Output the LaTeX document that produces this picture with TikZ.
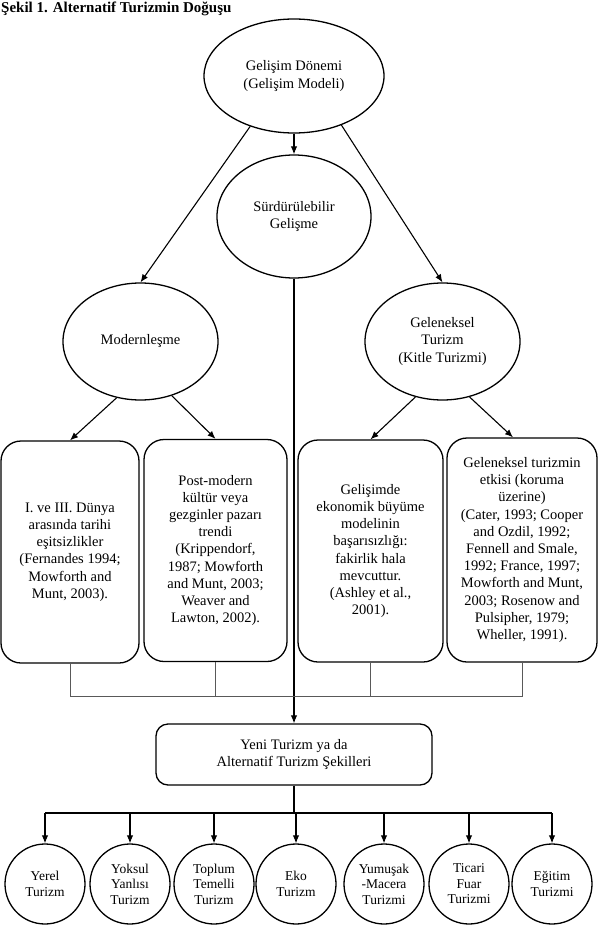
\documentclass[tikz,border=0pt]{standalone}
\usepackage{fontspec}
\setmainfont{Liberation Serif}
\usetikzlibrary{shapes.geometric, arrows.meta}

\begin{document}
\begin{tikzpicture}[
    x=1pt, y=-1pt,
    oval/.style={ellipse, draw, line width=1.3pt, inner sep=0pt, align=center, font=\fontsize{14.5}{17.2}\selectfont},
    source/.style={rectangle, rounded corners=20pt, draw, line width=1.3pt, minimum height=222pt, inner sep=2pt, align=center, font=\fontsize{14.5}{17.2}\selectfont},
    kind/.style={circle, draw, line width=1.3pt, minimum size=80pt, inner sep=0pt, align=center, font=\fontsize{13.5}{15.5}\selectfont},
    arrow/.style={->, >={Latex[length=8pt, width=6.5pt]}, line width=1.1pt},
    joinline/.style={draw=black!65, line width=0.9pt}
]
\path[use as bounding box] (0,0) rectangle (598,947);

% Başlık
\node[anchor=base west, font=\fontsize{15}{18}\selectfont\bfseries, inner sep=0pt] (title) at (1,13) {Şekil 1. Alternatif Turizmin Doğuşu};

% Üst düzey
\node[oval, minimum width=180pt, minimum height=114pt] (gelisim) at (294,76) {Gelişim Dönemi\\(Gelişim Modeli)};
\node[oval, minimum width=154pt, minimum height=123pt] (surdur) at (294,216.5) {Sürdürülebilir\\Gelişme};

\node[oval, minimum width=155pt, minimum height=117pt] (modern) at (140.5,341.5) {Modernleşme};
\node[oval, minimum width=155pt, minimum height=117pt] (geleneksel) at (442.5,341.5) {Geleneksel\\Turizm\\(Kitle Turizmi)};

% Kaynak kutuları
\node[source, minimum width=138pt] (esitsiz) at (70,552) {I. ve III. Dünya\\arasında tarihi\\eşitsizlikler\\(Fernandes 1994;\\Mowforth and\\Munt, 2003).};
\node[source, minimum width=143pt] (postmodern) at (215.5,550.5) {Post-modern\\kültür veya\\gezginler pazarı\\trendi\\(Krippendorf,\\1987; Mowforth\\and Munt, 2003;\\Weaver and\\Lawton, 2002).};
\node[source, minimum width=145pt] (basarisiz) at (370.5,551) {Gelişimde\\ekonomik büyüme\\modelinin\\başarısızlığı:\\fakirlik hala\\mevcuttur.\\(Ashley et al.,\\2001).};
\node[source, minimum width=150pt, minimum height=224pt] (etki) at (522,550) {Geleneksel turizmin\\etkisi (koruma\\üzerine)\\(Cater, 1993; Cooper\\and Ozdil, 1992;\\Fennell and Smale,\\1992; France, 1997;\\Mowforth and Munt,\\2003; Rosenow and\\Pulsipher, 1979;\\Wheller, 1991).};

% Yeni turizm
\node[rectangle, rounded corners=12pt, draw, line width=1.3pt, minimum width=276pt, minimum height=61pt, align=center, font=\fontsize{14.5}{17.2}\selectfont] (yeni) at (294,754.5) {Yeni Turizm ya da\\Alternatif Turizm Şekilleri};

% Alternatif turizm türleri
\node[kind] (yerel) at (45,884) {Yerel\\Turizm};
\node[kind] (yoksul) at (130,884) {Yoksul\\Yanlısı\\Turizm};
\node[kind] (toplum) at (214,884) {Toplum\\Temelli\\Turizm};
\node[kind] (eko) at (296,884) {Eko\\Turizm};
\node[kind] (yumusak) at (384,884) {Yumuşak\\-Macera\\Turizmi};
\node[kind] (ticari) at (469,884) {Ticari\\Fuar\\Turizmi};
\node[kind] (egitim) at (552,884) {Eğitim\\Turizmi};

\coordinate (join) at (0,696);
\coordinate (split) at (0,813);

% Oklar
\draw[arrow] (gelisim) -- (surdur);
\draw[arrow] (gelisim.229) -- (modern.north);
\draw[arrow] (gelisim.-46) -- (geleneksel.north);

\draw[arrow] (modern.247) -- (esitsiz.north);
\draw[arrow] (modern.-60) -- (postmodern.north);
\draw[arrow] (geleneksel.244) -- (basarisiz.north);
\draw[arrow] (geleneksel.-64) -- ([xshift=-9pt]etki.north);

\draw[arrow] (surdur) -- (yeni);

% Birleşme çizgileri
\draw[joinline] (esitsiz.south) -- (esitsiz.south |- join) -- (etki.south |- join) -- (etki.south);
\draw[joinline] (postmodern.south) -- (postmodern.south |- join);
\draw[joinline] (basarisiz.south) -- (basarisiz.south |- join);

% Dağılım
\draw[line width=1.1pt] (yeni.south) -- (yeni.south |- split);
\draw[line width=1.1pt] (yerel.north |- split) -- (egitim.north |- split);
\draw[arrow] (yerel.north |- split) -- (yerel.north);
\draw[arrow] (yoksul.north |- split) -- (yoksul.north);
\draw[arrow] (toplum.north |- split) -- (toplum.north);
\draw[arrow] (eko.north |- split) -- (eko.north);
\draw[arrow] (yumusak.north |- split) -- (yumusak.north);
\draw[arrow] (ticari.north |- split) -- (ticari.north);
\draw[arrow] (egitim.north |- split) -- (egitim.north);

\end{tikzpicture}
\end{document}
